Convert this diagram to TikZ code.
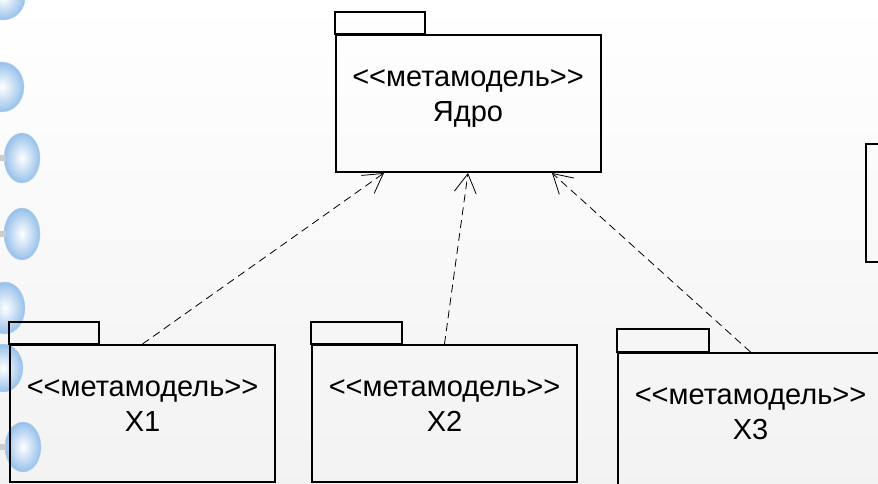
\documentclass[tikz,border=0pt]{standalone}
\usepackage{fontspec}
\setmainfont{Liberation Sans}[Ligatures=TeXOff]
\usepackage{xcolor}
\usepackage{tikz}
\usetikzlibrary{shapes.geometric, arrows.meta}
\definecolor{bubble}{RGB}{150,192,234}
\tikzstyle{pkg} = [rectangle, minimum width=265pt, minimum height=137pt, text centered, align=center, draw=black, line width=2pt, font=\fontsize{29}{35}\selectfont, text height=63pt, text depth=26pt]
\tikzstyle{tab} = [draw=black, line width=2pt]
\tikzstyle{arrow} = [line width=0.8pt, dash pattern=on 8pt off 5pt, -{Straight Barb[length=19pt, width=22pt]}]
\tikzstyle{ball} = [shading=radial, inner color=white, outer color=bubble, draw=bubble!70, line width=0.4pt]

\begin{document}
\begin{tikzpicture}[x=1pt, y=1pt, node distance=310pt]
\useasboundingbox (0,0) rectangle (878,484);
\clip (0,0) rectangle (878,484);
\shade[top color=white, bottom color=black!5] (0,0) rectangle (878,484);

% binder rings on the left edge
\foreach \bx/\by/\rx/\ry in {3/486/22/22, 2/397/22/25, 22/326/18/25, 22/250/18/26, 5/176/20/26, 3/116/20/24, 23/37/18/25}
  \shade[ball] (\bx,\by) ellipse [x radius=\rx, y radius=\ry];
\foreach \by in {326, 250, 37}
  \fill[black!20] (0,\by-3) rectangle (6,\by+3);

\node (core) [pkg] at (468,380.5) {<<метамодель>>\\Ядро};
\node (x1) [pkg, below of=core, xshift=-325.5pt] {<<метамодель>>\\X1};
\node (x2) [pkg, below of=core, xshift=-23.5pt] {<<метамодель>>\\X2};
\node (x3) [pkg, below of=core, xshift=282.5pt, yshift=-8pt] {<<метамодель>>\\X3};
\node (side) [rectangle, draw=black, line width=2pt, minimum width=100pt, minimum height=118pt, right of=core, xshift=138pt, yshift=-99.5pt] {};

\draw[tab] (core.north west) rectangle ++(90,22);
\draw[tab] (x1.north west) rectangle ++(90,22);
\draw[tab] (x2.north west) rectangle ++(91,22);
\draw[tab] (x3.north west) rectangle ++(92,23);

\draw[arrow] (x1.north) -- ([xshift=-84pt]core.south);
\draw[arrow] (x2.north) -- (core.south);
\draw[arrow] (x3.north) -- ([xshift=84pt]core.south);

\end{tikzpicture}
\end{document}
